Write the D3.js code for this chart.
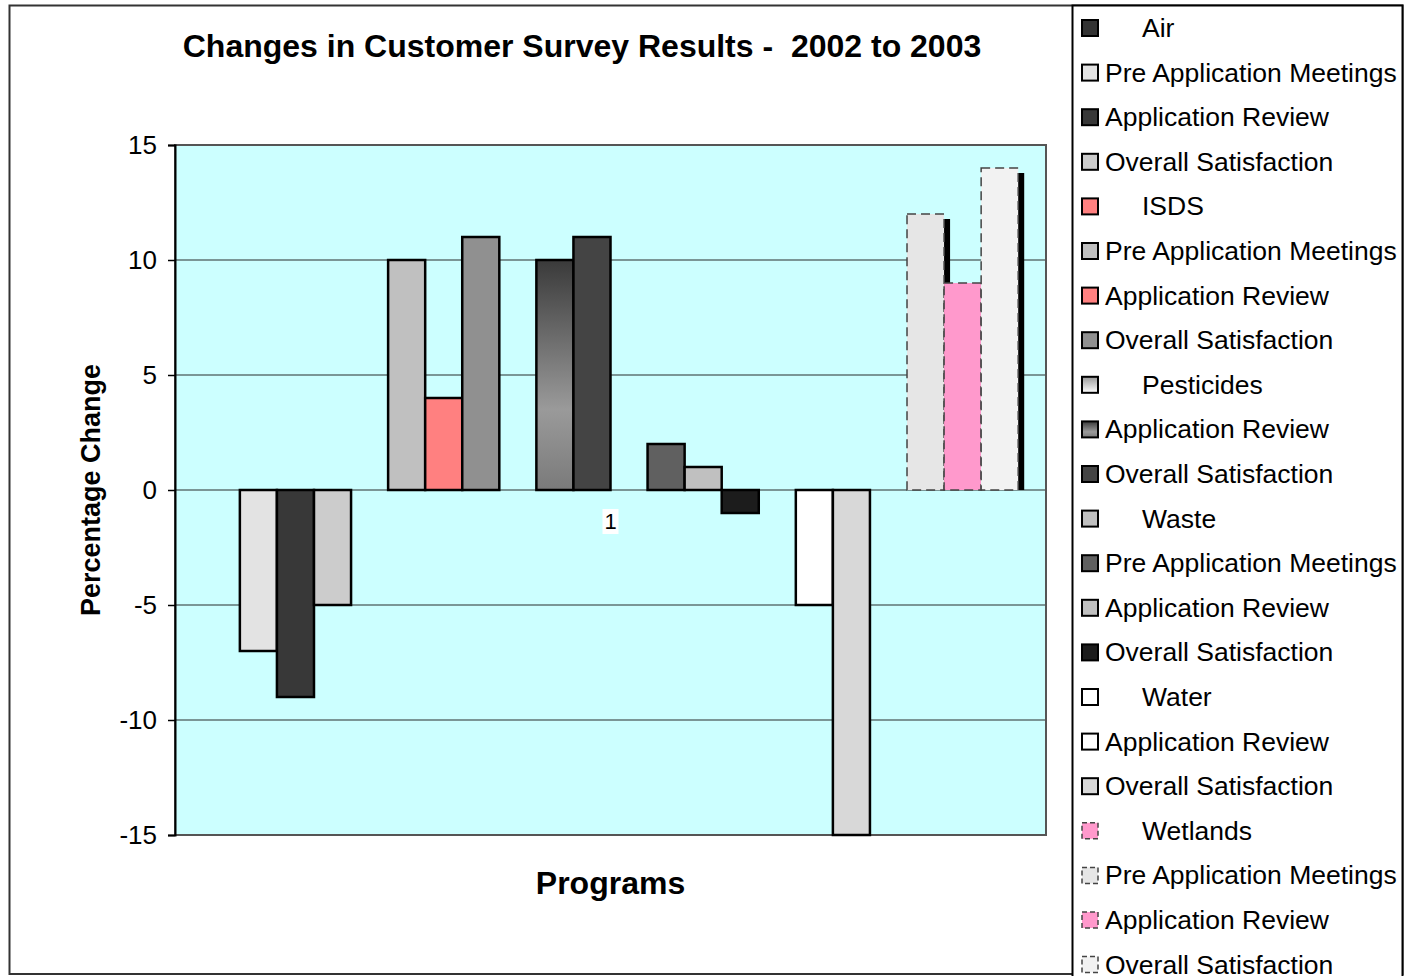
<!DOCTYPE html>
<html><head><meta charset="utf-8">
<script src="https://cdn.jsdelivr.net/npm/d3@7"></script>
<style>
html,body{margin:0;padding:0;background:#fff;}
text{font-family:"Liberation Sans",Arial,sans-serif;}
</style></head>
<body>
<svg id="chart" width="1412" height="976"></svg>
<script>
// ---- data ----
const categories = ["1"];
const programs = ["Air","ISDS","Pesticides","Waste","Water","Wetlands"];
const seriesNames = [
  "Air","Pre Application Meetings","Application Review","Overall Satisfaction",
  "ISDS","Pre Application Meetings","Application Review","Overall Satisfaction",
  "Pesticides","Application Review","Overall Satisfaction",
  "Waste","Pre Application Meetings","Application Review","Overall Satisfaction",
  "Water","Application Review","Overall Satisfaction",
  "Wetlands","Pre Application Meetings","Application Review","Overall Satisfaction"
];
const seriesProgram = [0,0,0,0, 1,1,1,1, 2,2,2, 3,3,3,3, 4,4,4, 5,5,5,5];
const seriesValues = [0,-7,-9,-5, 0,10,4,11, 0,10,11, 0,2,1,-1, 0,-5,-15, 0,12,9,14];
const yTicks = [-15,-10,-5,0,5,10,15];
const title = "Changes in Customer Survey Results -  2002 to 2003";
const yTitle = "Percentage Change";
const xTitle = "Programs";

// ---- styles ----
const fills = ["#333333","#e3e3e3","#383838","#cccccc",
  "#ff8080","#c0c0c0","#ff8080","#909090",
  "url(#gPest)","url(#gPestAR)","#444444",
  "#c0c0c0","#606060","#c0c0c0","#1c1c1c",
  "#ffffff","#ffffff","#d8d8d8",
  "#ff99cc","#e6e6e6","#ff99cc","#f2f2f2"];
const dashed = seriesProgram.map(p => p === 5);
const shadowed = seriesNames.map((n,i) => seriesProgram[i] === 5 && n !== "Application Review" && n !== "Wetlands");

const svg = d3.select("#chart");
const defs = svg.append("defs");
const g1 = defs.append("linearGradient").attr("id","gPest").attr("x1",0).attr("y1",0).attr("x2",0).attr("y2",1);
g1.append("stop").attr("offset","0%").attr("stop-color","#999");
g1.append("stop").attr("offset","100%").attr("stop-color","#fff");
const g2 = defs.append("linearGradient").attr("id","gPestAR").attr("x1",0).attr("y1",0).attr("x2",0).attr("y2",1);
g2.append("stop").attr("offset","0%").attr("stop-color","#3a3a3a");
g2.append("stop").attr("offset","65%").attr("stop-color","#9a9a9a");
g2.append("stop").attr("offset","100%").attr("stop-color","#7a7a7a");

// outer frame
svg.append("rect").attr("x",9.5).attr("y",5.5).attr("width",1393).attr("height",968.5)
  .attr("fill","#fff").attr("stroke","#333").attr("stroke-width",2);

const plot = {l:175, r:1046, t:145, b:835};
const y = d3.scaleLinear().domain([-15,15]).range([plot.b, plot.t]);
const xCat = d3.scaleBand().domain(categories).range([plot.l, plot.r]).paddingInner(0).paddingOuter(0);
const bw = xCat.bandwidth() / (seriesNames.length + 1.5);
const x = d3.scaleBand().domain(d3.range(seriesNames.length))
  .range([xCat("1") + bw*0.75, xCat("1") + xCat.bandwidth() - bw*0.75]).padding(0);

// plot background
svg.append("rect").attr("x",plot.l).attr("y",plot.t).attr("width",plot.r-plot.l).attr("height",plot.b-plot.t)
  .attr("fill","#ccffff");

// gridlines
svg.append("g").selectAll("line").data(yTicks.filter(d=>d>-15 && d<15)).join("line")
  .attr("x1",plot.l).attr("x2",plot.r).attr("y1",d=>y(d)).attr("y2",d=>y(d))
  .attr("stroke","#5f7373").attr("stroke-width",1.5);

// plot border
svg.append("rect").attr("x",plot.l).attr("y",plot.t).attr("width",plot.r-plot.l).attr("height",plot.b-plot.t)
  .attr("fill","none").attr("stroke","#555").attr("stroke-width",2);

// bars
const bars = svg.append("g");
seriesValues.forEach((v,i) => {
  if (v === 0) return;
  const top = y(Math.max(v,0)), bot = y(Math.min(v,0));
  if (shadowed[i]) {
    bars.append("rect").attr("x",x(i)+6).attr("y",top+5).attr("width",x.bandwidth())
      .attr("height",Math.max(0,bot-top-5)).attr("fill","#000");
  }
  bars.append("rect").attr("x",x(i)).attr("y",top).attr("width",x.bandwidth()).attr("height",bot-top)
    .attr("fill",fills[i])
    .attr("stroke", dashed[i] ? "#444" : "#000")
    .attr("stroke-width", dashed[i] ? 1.5 : 2.5)
    .attr("stroke-dasharray", dashed[i] ? "9,5" : null);
});

// y axis
const yAxis = svg.append("g").attr("transform",`translate(${plot.l},0)`)
  .call(d3.axisLeft(y).tickValues(yTicks).tickSize(7).tickPadding(11).tickFormat(d => String(d)));
yAxis.select(".domain").attr("stroke","#000").attr("stroke-width",2);
yAxis.selectAll(".tick line").attr("stroke","#000").attr("stroke-width",1.5);
yAxis.selectAll(".tick text").attr("font-size",26).attr("fill","#000")
  .attr("font-family","Liberation Sans, Arial, sans-serif");

// category label "1"
const cx = xCat("1") + xCat.bandwidth()/2;
const catG = svg.append("g");
catG.append("rect").attr("x",cx-8).attr("y",y(0)+19).attr("width",16).attr("height",25).attr("fill","#fff");
catG.append("text").attr("x",cx).attr("y",y(0)+39).attr("text-anchor","middle")
  .attr("font-size",22).text(categories[0]);

// titles
svg.append("text").attr("x",582).attr("y",57).attr("text-anchor","middle")
  .attr("font-size",32).attr("font-weight","bold").style("white-space","pre").text(title);
svg.append("text").attr("transform",`translate(100,${(plot.t+plot.b)/2}) rotate(-90)`)
  .attr("text-anchor","middle").attr("font-size",27).attr("font-weight","bold").text(yTitle);
svg.append("text").attr("x",cx).attr("y",894).attr("text-anchor","middle")
  .attr("font-size",32).attr("font-weight","bold").text(xTitle);

// legend
svg.append("rect").attr("x",1072.5).attr("y",5.5).attr("width",330).attr("height",990)
  .attr("fill","#fff").attr("stroke","#000").attr("stroke-width",2);
const leg = svg.append("g");
seriesNames.forEach((name,i) => {
  const cy = 28 + i*44.6;
  const isHeader = i === 0 || seriesProgram[i] !== seriesProgram[i-1];
  leg.append("rect").attr("x",1082).attr("y",cy-8).attr("width",16).attr("height",16)
    .attr("fill",fills[i])
    .attr("stroke", dashed[i] ? "#444" : "#000")
    .attr("stroke-width", dashed[i] ? 1.5 : 2)
    .attr("stroke-dasharray", dashed[i] ? "5,3" : null);
  leg.append("text").attr("x", isHeader ? 1142 : 1105).attr("y",cy+9)
    .attr("font-size",26.5).attr("fill","#000").text(name);
});
</script>
</body></html>
